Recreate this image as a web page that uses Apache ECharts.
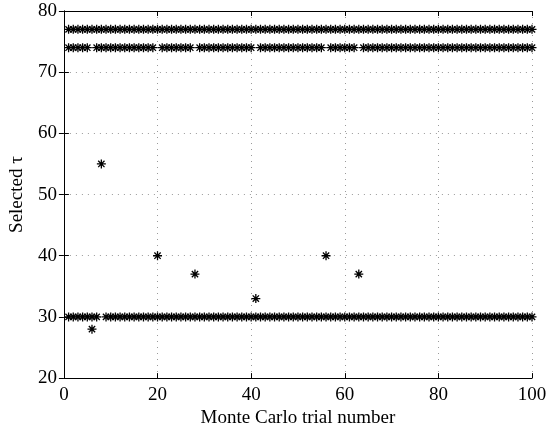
<!DOCTYPE html>
<html>
<head>
<meta charset="utf-8">
<script src="https://cdn.jsdelivr.net/npm/echarts@6/dist/echarts.min.js"></script>
<style>html,body{margin:0;padding:0;background:#fff;}#c{width:554px;height:433px;}</style>
</head>
<body>
<div id="c"></div>
<script>
// Selected tau per Monte Carlo trial (trials 1..100), three selections per trial
const tauFirst = [
77,77,77,77,77,77,77,77,77,77,
77,77,77,77,77,77,77,77,77,77,
77,77,77,77,77,77,77,77,77,77,
77,77,77,77,77,77,77,77,77,77,
77,77,77,77,77,77,77,77,77,77,
77,77,77,77,77,77,77,77,77,77,
77,77,77,77,77,77,77,77,77,77,
77,77,77,77,77,77,77,77,77,77,
77,77,77,77,77,77,77,77,77,77,
77,77,77,77,77,77,77,77,77,77
];
const tauSecond = [
74,74,74,74,74,28,74,74,74,74,
74,74,74,74,74,74,74,74,74,40,
74,74,74,74,74,74,74,37,74,74,
74,74,74,74,74,74,74,74,74,74,
33,74,74,74,74,74,74,74,74,74,
74,74,74,74,74,40,74,74,74,74,
74,74,37,74,74,74,74,74,74,74,
74,74,74,74,74,74,74,74,74,74,
74,74,74,74,74,74,74,74,74,74,
74,74,74,74,74,74,74,74,74,74
];
const tauThird = [
30,30,30,30,30,30,30,55,30,30,
30,30,30,30,30,30,30,30,30,30,
30,30,30,30,30,30,30,30,30,30,
30,30,30,30,30,30,30,30,30,30,
30,30,30,30,30,30,30,30,30,30,
30,30,30,30,30,30,30,30,30,30,
30,30,30,30,30,30,30,30,30,30,
30,30,30,30,30,30,30,30,30,30,
30,30,30,30,30,30,30,30,30,30,
30,30,30,30,30,30,30,30,30,30
];
const xTicks = [0, 20, 40, 60, 80, 100];
const yTicks = [20, 30, 40, 50, 60, 70, 80];

const FONT = 'Liberation Serif';
const star = 'path://M0 10L20 10M10 0L10 20M3 3L17 17M17 3L3 17';

function toPoints(arr) { return arr.map((v, i) => [i + 1, v]); }

const chart = echarts.init(document.getElementById('c'), null, {renderer: 'canvas'});
const gridLine = {show: true, lineStyle: {color: '#9a9a9a', type: [1, 5], width: 1}};
const axisLineS = {show: true, lineStyle: {color: '#000', width: 1}};
const tickS = {show: true, inside: true, length: 5, lineStyle: {color: '#000', width: 1}};
const xBase = {type: 'value', min: xTicks[0], max: xTicks[xTicks.length - 1], interval: 20};
const yBase = {type: 'value', min: yTicks[0], max: yTicks[yTicks.length - 1], interval: 10};

function series(arr) {
  return {
    type: 'scatter',
    data: toPoints(arr),
    symbol: star,
    symbolSize: 9,
    itemStyle: {color: 'rgba(0,0,0,0)', borderColor: '#000', borderWidth: 1.3, opacity: 1},
    emphasis: {disabled: true},
    animation: false
  };
}

chart.setOption({
  backgroundColor: '#fff',
  animation: false,
  grid: {left: 63, right: 22, top: 11, bottom: 54, containLabel: false},
  xAxis: [
    Object.assign({}, xBase, {
      position: 'bottom',
      name: 'Monte Carlo trial number',
      nameLocation: 'middle',
      nameGap: 27,
      nameTextStyle: {fontFamily: FONT, fontSize: 19, color: '#000'},
      axisLine: axisLineS, axisTick: tickS,
      axisLabel: {fontFamily: FONT, fontSize: 19, color: '#000', margin: 7},
      splitLine: gridLine
    }),
    Object.assign({}, xBase, {
      position: 'top',
      axisLine: axisLineS, axisTick: tickS,
      axisLabel: {show: false}, splitLine: {show: false}
    })
  ],
  yAxis: [
    Object.assign({}, yBase, {
      position: 'left',
      name: 'Selected τ',
      nameLocation: 'middle',
      nameGap: 35,
      nameTextStyle: {fontFamily: FONT, fontSize: 19, color: '#000'},
      axisLine: axisLineS, axisTick: tickS,
      axisLabel: {fontFamily: FONT, fontSize: 19, color: '#000', margin: 7, padding: [5, 0, 0, 0]},
      splitLine: gridLine
    }),
    Object.assign({}, yBase, {
      position: 'right',
      axisLine: axisLineS, axisTick: tickS,
      axisLabel: {show: false}, splitLine: {show: false}
    })
  ],
  series: [series(tauFirst), series(tauSecond), series(tauThird)]
});
</script>
</body>
</html>
